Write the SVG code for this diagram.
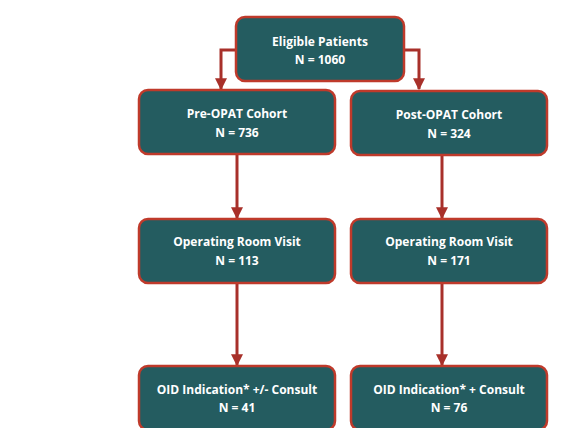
<svg xmlns="http://www.w3.org/2000/svg" width="561" height="428" viewBox="0 0 561 428">
<defs>
<style>
.box{fill:#245c60;stroke:#bf3a2b;stroke-width:2.5}
.t{font-family:"Open Sans","Liberation Sans",sans-serif;font-weight:bold;font-size:12px;fill:#ffffff;text-anchor:middle}
.c{fill:none;stroke:#a8302a;stroke-width:3}
</style>
<marker id="ah" viewBox="0 0 10 10" refX="9" refY="5" markerWidth="4" markerHeight="4" orient="auto" markerUnits="strokeWidth">
<path d="M0,0 L10,5 L0,10 Z" fill="#a8302a"/>
</marker>
</defs>
<rect width="561" height="428" fill="#ffffff"/>
<g id="connectors">
<path class="c" d="M236,50 H221 V89" marker-end="url(#ah)"/>
<path class="c" d="M404,50 H419 V89" marker-end="url(#ah)"/>
<path class="c" d="M237,155 V218" marker-end="url(#ah)"/>
<path class="c" d="M442,156 V218" marker-end="url(#ah)"/>
<path class="c" d="M237,284 V365" marker-end="url(#ah)"/>
<path class="c" d="M442,284 V365" marker-end="url(#ah)"/>
</g>
<g id="eligible">
<rect class="box" x="236" y="17" width="168" height="64" rx="9"/>
<text class="t" x="320" y="46">Eligible Patients</text>
<text class="t" x="320" y="64">N = 1060</text>
</g>
<g id="pre-opat">
<rect class="box" x="139" y="90" width="196" height="64" rx="9"/>
<text class="t" x="237" y="118">Pre-OPAT Cohort</text>
<text class="t" x="237" y="137">N = 736</text>
</g>
<g id="post-opat">
<rect class="box" x="351" y="91" width="196" height="64" rx="9"/>
<text class="t" x="449" y="119">Post-OPAT Cohort</text>
<text class="t" x="449" y="138">N = 324</text>
</g>
<g id="or-pre">
<rect class="box" x="139" y="219" width="196" height="64" rx="9"/>
<text class="t" x="237" y="246">Operating Room Visit</text>
<text class="t" x="237" y="265">N = 113</text>
</g>
<g id="or-post">
<rect class="box" x="351" y="219" width="196" height="64" rx="9"/>
<text class="t" x="449" y="246">Operating Room Visit</text>
<text class="t" x="449" y="265">N = 171</text>
</g>
<g id="oid-pre">
<rect class="box" x="139" y="366" width="196" height="64" rx="9"/>
<text class="t" x="237" y="394">OID Indication* +/- Consult</text>
<text class="t" x="237" y="412">N = 41</text>
</g>
<g id="oid-post">
<rect class="box" x="351" y="366" width="196" height="64" rx="9"/>
<text class="t" x="449" y="394">OID Indication* + Consult</text>
<text class="t" x="449" y="412">N = 76</text>
</g>
</svg>
